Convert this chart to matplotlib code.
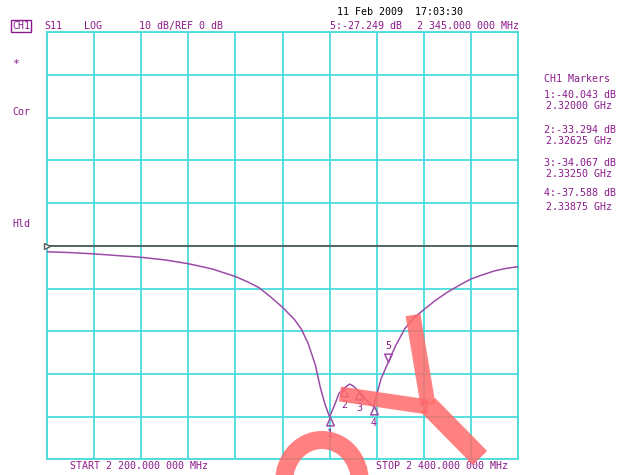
import matplotlib
matplotlib.use("Agg")
import matplotlib.pyplot as plt
from matplotlib.path import Path
from matplotlib.lines import Line2D
from matplotlib.patches import Arc
import numpy as np

# ---- data ----
freq_mhz = [2200, 2210, 2220, 2230, 2240, 2250, 2260, 2270, 2280, 2285, 2290, 2295,
            2300, 2305, 2308, 2311, 2314, 2316, 2318, 2320, 2322, 2324, 2326.25,
            2328.5, 2330, 2332.5, 2335, 2337, 2338.75, 2340, 2342, 2345, 2348, 2352,
            2356, 2360, 2365, 2370, 2375, 2380, 2385, 2390, 2395, 2400]
s11_db = [-1.4, -1.6, -1.9, -2.3, -2.7, -3.3, -4.2, -5.4, -7.2, -8.4, -9.8, -12.0,
          -14.4, -17.2, -19.5, -23.0, -28.0, -33.0, -37.0, -40.04, -37.5, -34.6, -33.29,
          -32.4, -32.8, -34.07, -35.6, -37.0, -37.59, -35.0, -31.0, -27.25, -23.5, -19.4,
          -16.8, -15.0, -12.8, -10.9, -9.3, -7.8, -6.8, -5.9, -5.3, -4.9]
marker_ids = ["1", "2", "3", "4"]
marker_freq = [2320.0, 2326.25, 2332.5, 2338.75]
marker_db = [-40.043, -33.294, -34.067, -37.588]
active_id = "5"
active_freq = 2345.0
active_db = -27.249
start_mhz, stop_mhz = 2200, 2400
ref_db, db_per_div = 0, 10

PURPLE = "#8a1a8a"
TRACE = "#9c4ca8"
GRID = "#48dcdc"
MONO = "DejaVu Sans Mono"

fig = plt.figure(figsize=(6.2, 4.75), dpi=100)
fig.patch.set_facecolor("white")
W, H = 620, 475
def fx(x): return x / W
def fy(y): return 1 - y / H

ax = fig.add_axes([fx(47.3), fy(459.3), (517.7 - 47.3) / W, (459.3 - 32.3) / H])
ax.set_xlim(start_mhz, stop_mhz)
ax.set_ylim(ref_db - 5 * db_per_div, ref_db + 5 * db_per_div)
ax.set_xticks(np.arange(start_mhz, stop_mhz + 1, (stop_mhz - start_mhz) / 10))
ax.set_yticks(np.arange(-50, 51, db_per_div))
ax.tick_params(length=0, labelbottom=False, labelleft=False)
ax.grid(True, color=GRID, lw=1.3)
for s in ax.spines.values():
    s.set_color(GRID)
    s.set_linewidth(1.3)

# reference line
ax.axhline(ref_db, color="#5a5a5a", lw=1.3, zorder=3)
ax.plot([start_mhz], [ref_db], marker=">", ms=5, mfc="white", mec="#5a5a5a",
        clip_on=False, zorder=4)

# trace
ax.plot(freq_mhz, s11_db, color=TRACE, lw=1.1, zorder=5)

# markers
up_tri = Path([(0, 0), (-0.5, -1.1), (0.5, -1.1), (0, 0)],
              [Path.MOVETO, Path.LINETO, Path.LINETO, Path.CLOSEPOLY])
down_tri = Path([(0, 0), (-0.5, 1.1), (0.5, 1.1), (0, 0)],
                [Path.MOVETO, Path.LINETO, Path.LINETO, Path.CLOSEPOLY])
for mid, f, d in zip(marker_ids, marker_freq, marker_db):
    ax.plot([f], [d], marker=up_tri, ms=12, mfc="none", mec=TRACE, mew=1.1, zorder=6)
    ax.annotate(mid, (f, d), xytext=(0, -8.5), textcoords="offset points",
                ha="center", va="top", fontsize=7.2, color=PURPLE, family=MONO)
ax.plot([active_freq], [active_db], marker=down_tri, ms=12, mfc="none", mec=TRACE,
        mew=1.1, zorder=6)
ax.annotate(active_id, (active_freq, active_db), xytext=(0, 8), textcoords="offset points",
            ha="center", va="bottom", fontsize=7.2, color=PURPLE, family=MONO)

fs = 7.2
# header
fig.text(fx(337), fy(12), "11 Feb 2009  17:03:30", fontsize=fs, family=MONO,
         color="black", va="center")
fig.text(fx(12), fy(26), "CH1", fontsize=fs, family=MONO, color=PURPLE, va="center",
         bbox=dict(boxstyle="square,pad=0.12", fc="white", ec=PURPLE, lw=1.0))
fig.text(fx(44), fy(26), "S11", fontsize=fs, family=MONO, color=PURPLE, va="center")
fig.text(fx(84), fy(26), "LOG", fontsize=fs, family=MONO, color=PURPLE, va="center")
fig.text(fx(139), fy(26), f"{db_per_div} dB/REF {ref_db} dB", fontsize=fs, family=MONO,
         color=PURPLE, va="center")
fig.text(fx(330), fy(26), f"{active_id}:{active_db:.3f} dB", fontsize=fs, family=MONO,
         color=PURPLE, va="center")
fig.text(fx(519), fy(26), "2 345.000 000 MHz", fontsize=fs, family=MONO,
         color=PURPLE, va="center", ha="right")

# left status
fig.text(fx(12), fy(64), "*", fontsize=fs + 1, family=MONO, color=PURPLE, va="center")
fig.text(fx(12), fy(112), "Cor", fontsize=fs, family=MONO, color=PURPLE, va="center")
fig.text(fx(12), fy(224), "Hld", fontsize=fs, family=MONO, color=PURPLE, va="center")

# bottom
fig.text(fx(70), fy(466), f"START 2 {start_mhz - 2000:.3f} 000 MHz", fontsize=fs,
         family=MONO, color=PURPLE, va="center")
fig.text(fx(376), fy(466), f"STOP 2 {stop_mhz - 2000:.3f} 000 MHz", fontsize=fs,
         family=MONO, color=PURPLE, va="center")

# marker table
fig.text(fx(544), fy(79), "CH1 Markers", fontsize=fs, family=MONO, color=PURPLE, va="center")
rows_y = [(95, 106), (130, 141), (163, 174), (193, 207)]
for (y1, y2), mid, f, d in zip(rows_y, marker_ids, marker_freq, marker_db):
    fig.text(fx(544), fy(y1), f"{mid}:{d:.3f} dB", fontsize=fs, family=MONO,
             color=PURPLE, va="center")
    fig.text(fx(546), fy(y2), f"{f / 1000:.5f} GHz", fontsize=fs, family=MONO,
             color=PURPLE, va="center")

# watermark (decorative red strokes)
WM = dict(color="#ff6a6a", alpha=0.85, solid_capstyle="butt", zorder=10)
def stroke(pts, px):
    xs = [fx(p[0]) for p in pts]
    ys = [fy(p[1]) for p in pts]
    fig.add_artist(Line2D(xs, ys, lw=px * 0.72, transform=fig.transFigure, **WM))
stroke([(340, 394), (428, 407)], 15)
stroke([(413, 315), (428, 405)], 15)
stroke([(428, 405), (480, 458)], 20)
arc = Arc((fx(322), fy(482)), 2 * 38 / W, 2 * 42 / H, theta1=0, theta2=180,
          transform=fig.transFigure, lw=18 * 0.72, color="#ff6a6a", alpha=0.85, zorder=10)
fig.add_artist(arc)

fig.savefig("out.png", dpi=100)
